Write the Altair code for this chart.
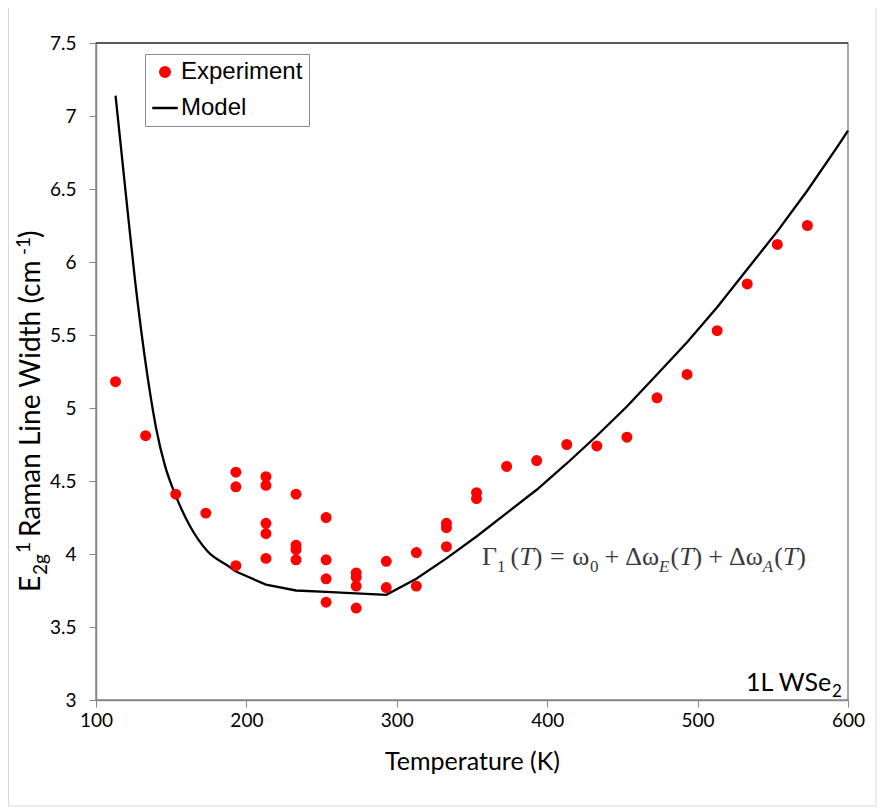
import altair as alt
import pandas as pd

# ---------------- data ----------------
exp_T = [113, 133, 153, 173,
         193, 193, 193,
         213, 213, 213, 213, 213,
         233, 233, 233, 233,
         253, 253, 253, 253,
         273, 273, 273, 273,
         293, 293, 313, 313,
         333, 333, 333, 353, 353,
         373, 393, 413, 433, 453, 473, 493, 513, 533, 553, 573]
exp_W = [5.18, 4.81, 4.41, 4.28,
         4.56, 4.46, 3.92,
         4.53, 4.47, 4.21, 4.14, 3.97,
         4.41, 4.06, 4.03, 3.96,
         4.25, 3.96, 3.83, 3.67,
         3.87, 3.84, 3.78, 3.63,
         3.95, 3.77, 4.01, 3.78,
         4.21, 4.18, 4.05, 4.42, 4.38,
         4.60, 4.64, 4.75, 4.74, 4.80, 5.07, 5.23, 5.53, 5.85, 6.12, 6.25]

# model: steep low-T branch (drawn smooth) and the rest (straight segments)
model_low_T = [113, 120, 126, 132, 136, 140, 146, 153, 162, 174, 189, 193]
model_low_W = [7.14, 6.45, 5.87, 5.38, 5.10, 4.86, 4.60, 4.40, 4.20, 4.02, 3.91, 3.88]
model_high_T = [193, 213, 233, 253, 273, 293, 313, 333, 353, 373, 393, 413, 433,
                453, 473, 493, 513, 533, 553, 573, 593, 600]
model_high_W = [3.88, 3.79, 3.75, 3.74, 3.73, 3.72, 3.83, 3.97, 4.12, 4.28, 4.44, 4.62, 4.81,
                5.01, 5.23, 5.45, 5.69, 5.95, 6.21, 6.49, 6.79, 6.90]

series_names = ["Experiment", "Model"]
series_colors = ["#ff0000", "#000000"]
x_ticks = [100, 200, 300, 400, 500, 600]
y_ticks = [3, 3.5, 4, 4.5, 5, 5.5, 6, 6.5, 7, 7.5]

# y-axis title pieces: text, baseline x (page px), start y (page px), size
ytitle_pieces = [
    ("E", 40, 592, 28),
    ("2g", 47, 575, 19),
    ("1", 30, 553, 19),
    ("Raman Line Width (cm", 40, 537, 28),
    ("-1", 30, 255, 19),
    (")", 40, 238, 28),
]

# equation pieces: text, italic, subscript, gap weight after
eq_pieces = [
    ("Γ", False, False, 0.0),
    ("1", False, True, 1.0),
    ("(", False, False, 0.0),
    ("T", True, False, 0.0),
    (")", False, False, 1.5),
    ("=", False, False, 1.5),
    ("ω", False, False, 0.0),
    ("0", False, True, 1.2),
    ("+", False, False, 1.2),
    ("Δω", False, False, 0.0),
    ("E", True, True, 0.2),
    ("(", False, False, 0.0),
    ("T", True, False, 0.0),
    (")", False, False, 1.2),
    ("+", False, False, 1.2),
    ("Δω", False, False, 0.0),
    ("A", True, True, 0.2),
    ("(", False, False, 0.0),
    ("T", True, False, 0.0),
    (")", False, False, 0.0),
]
label_pieces = [
    ("1L WSe", 746, 691, 25),
    ("2", 832, 697, 17),
]

# ---------------- layout ----------------
X0, Y0 = 96, 43          # page position of plot origin
W, H = 752, 657

exp_df = pd.DataFrame({"T": exp_T, "W": exp_W, "series": series_names[0]})
low_df = pd.DataFrame({"T": model_low_T, "W": model_low_W, "series": series_names[1]})
high_df = pd.DataFrame({"T": model_high_T, "W": model_high_W, "series": series_names[1]})

xs = alt.Scale(domain=[100, 600], nice=False, zero=False)
ys = alt.Scale(domain=[3, 7.5], nice=False, zero=False)
col_scale = alt.Scale(domain=series_names, range=series_colors)
shape_scale = alt.Scale(domain=series_names, range=["circle", "stroke"])
size_scale = alt.Scale(domain=series_names, range=[90, 650])

legend = alt.Legend(
    title=None, orient="none", legendX=49, legendY=11,
    strokeColor="#8c8c8c", fillColor="white", padding=6,
    labelFont="Liberation Sans", labelFontSize=24, labelColor="black",
    rowPadding=10, labelOffset=2, symbolStrokeWidth=2.5,
)

xaxis = alt.Axis(values=x_ticks, title="Temperature (K)", grid=False,
                 format="d", labelPadding=4, titlePadding=19, labelFlush=False)
yaxis = alt.Axis(values=y_ticks, title=None, grid=False, format="~g",
                 labelPadding=13, labelFlush=False)

x_enc = alt.X("T:Q", scale=xs, axis=xaxis)
y_enc = alt.Y("W:Q", scale=ys, axis=yaxis)

line_low = alt.Chart(low_df).mark_line(strokeWidth=2.3, interpolate="monotone").encode(
    x=x_enc, y=y_enc,
    stroke=alt.Stroke("series:N", scale=col_scale, legend=legend),
)
line_high = alt.Chart(high_df).mark_line(strokeWidth=2.3).encode(
    x=x_enc, y=y_enc,
    stroke=alt.Stroke("series:N", scale=col_scale, legend=legend),
)

points = alt.Chart(exp_df).mark_point(filled=True, opacity=1, strokeWidth=1.5).encode(
    x=x_enc, y=y_enc,
    fill=alt.Fill("series:N", scale=col_scale, legend=legend),
    stroke=alt.Stroke("series:N", scale=col_scale, legend=legend),
    shape=alt.Shape("series:N", scale=shape_scale, legend=legend),
    size=alt.Size("series:N", scale=size_scale, legend=legend),
)

one = pd.DataFrame({"a": [0]})

top_rule = alt.Chart(one).mark_rule(color="#404040", strokeWidth=1.5).encode(
    x=alt.value(0), x2=alt.value(W), y=alt.value(0))

frame = alt.Chart(one).mark_rect(fillOpacity=0, stroke="#d9d9d9", strokeWidth=1).encode(
    x=alt.value(8.5 - X0), x2=alt.value(876 - X0),
    y=alt.value(-60), y2=alt.value(806 - Y0))

layers = [frame, line_low, line_high, points, top_rule]

for txt, bx, sy, fs in ytitle_pieces:
    layers.append(alt.Chart(one).mark_text(
        text=txt, angle=270, align="left", baseline="alphabetic",
        font="Lato", fontSize=fs, color="black").encode(
        x=alt.value(bx - X0), y=alt.value(sy - Y0)))

# equation: chain pieces left to right using approximate serif advance widths
EQ_X0, EQ_X1, EQ_BASE, EQ_SUB = 482, 806, 565, 572
EQ_FS, EQ_SFS = 26, 17
adv = {"Γ": 0.578, "(": 0.333, ")": 0.333, "T": 0.556, "=": 0.564, "ω": 0.686,
       "+": 0.564, "Δω": 1.298, "E": 0.611, "A": 0.611, "0": 0.5, "1": 0.5}
glyph_total = sum(adv[t] * (EQ_SFS if sub else EQ_FS) for t, _, sub, _ in eq_pieces)
gap_total = sum(g for *_, g in eq_pieces)
gap_unit = max(0.0, (EQ_X1 - EQ_X0 - glyph_total) / gap_total)
cur = EQ_X0
for txt, it, sub, g in eq_pieces:
    fs = EQ_SFS if sub else EQ_FS
    layers.append(alt.Chart(one).mark_text(
        text=txt, align="left", baseline="alphabetic",
        font="Liberation Serif", fontSize=fs, color="#3a3a3a",
        fontStyle="italic" if it else "normal").encode(
        x=alt.value(cur - X0), y=alt.value((EQ_SUB if sub else EQ_BASE) - Y0)))
    cur += adv[txt] * fs + g * gap_unit

for txt, px, py, fs in label_pieces:
    layers.append(alt.Chart(one).mark_text(
        text=txt, align="left", baseline="alphabetic",
        font="Lato", fontSize=fs, color="black").encode(
        x=alt.value(px - X0), y=alt.value(py - Y0)))

chart = alt.layer(*layers).properties(
    width=W, height=H, background="white",
    autosize=alt.AutoSizeParams(type="none"),
    padding={"left": X0 - 8, "top": Y0 - 8, "right": 30, "bottom": 110},
).configure_view(
    stroke="#8c8c8c", strokeWidth=1.5
).configure_axis(
    domainColor="#868686", tickColor="#868686", tickSize=7,
    labelFont="Lato", labelFontSize=19, labelColor="black",
    titleFont="Lato", titleFontSize=25, titleColor="black", titleFontWeight="normal",
    domainWidth=1.5,
)

chart.save("out.html", embed_options={"renderer": "svg", "actions": False})
